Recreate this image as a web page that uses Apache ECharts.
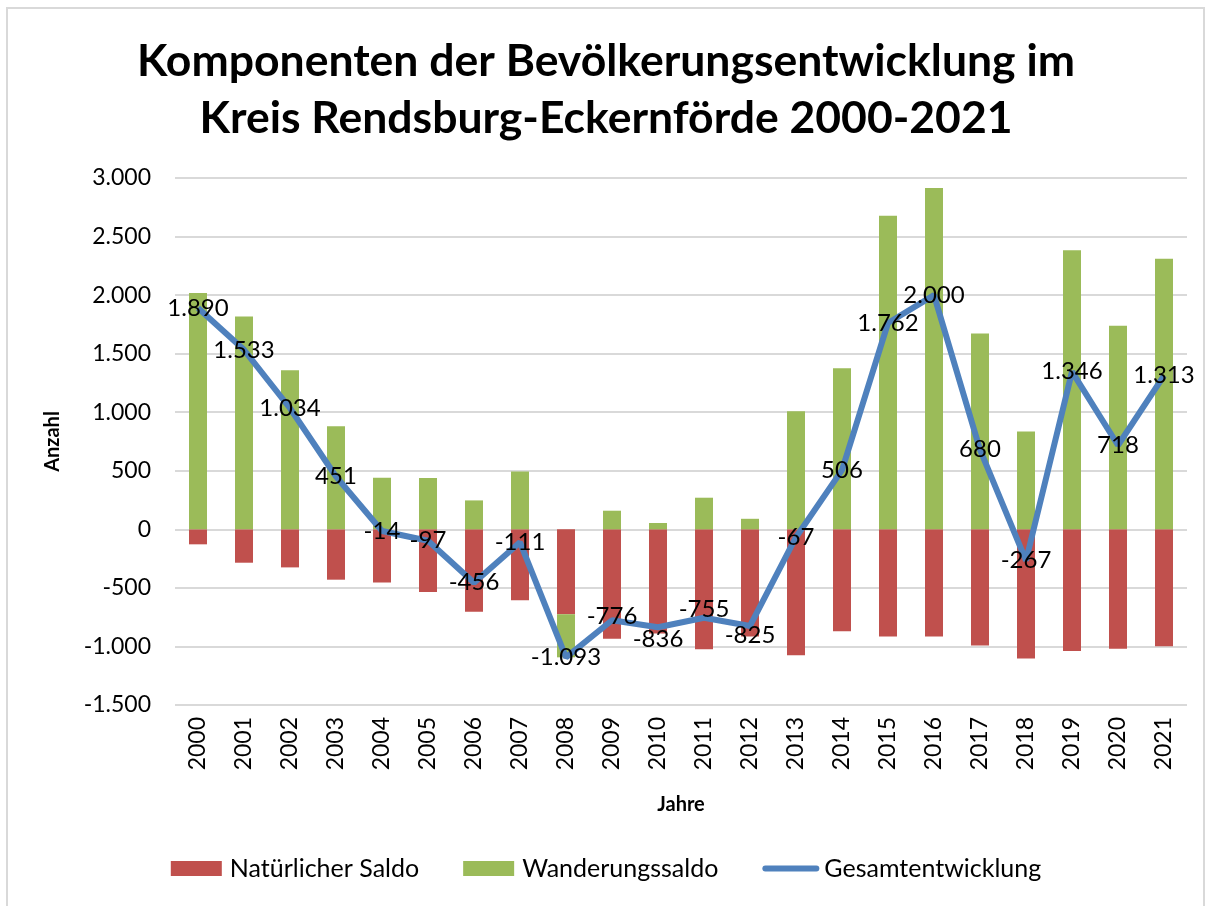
<!DOCTYPE html>
<html>
<head>
<meta charset="utf-8">
<script src="https://cdn.jsdelivr.net/npm/echarts@6/dist/echarts.min.js"></script>
<style>
html,body{margin:0;padding:0;background:#fff;}
#chart{width:1212px;height:906px;}
</style>
</head>
<body>
<div id="chart"></div>
<script>
const years = ['2000','2001','2002','2003','2004','2005','2006','2007','2008','2009','2010','2011','2012','2013','2014','2015','2016','2017','2018','2019','2020','2021'];
const natuerlicherSaldo = [-128,-285,-325,-430,-455,-535,-703,-605,-725,-935,-890,-1025,-915,-1075,-870,-915,-915,-993,-1102,-1038,-1020,-998];
const wanderungssaldo = [2018,1818,1359,881,441,438,247,494,-368,159,54,270,90,1008,1376,2677,2915,1673,835,2384,1738,2311];
const gesamtentwicklung = [1890,1533,1034,451,-14,-97,-456,-111,-1093,-776,-836,-755,-825,-67,506,1762,2000,680,-267,1346,718,1313];

function de(v){
  const neg = v < 0;
  let s = String(Math.abs(Math.round(v)));
  s = s.replace(/\B(?=(\d{3})+(?!\d))/g, '.');
  return (neg ? '-' : '') + s;
}

// small manual label nudges (vertical, px) as in the reference
const labelNudge = {'2010':12, '2012':9, '2009':-4, '2011':-8};

const FONT = 'Lato';
const lineData = gesamtentwicklung.map((v,i)=>{
  const n = labelNudge[years[i]];
  return n ? {value:v, label:{offset:[0,n]}} : v;
});

const chart = echarts.init(document.getElementById('chart'), null, {renderer:'canvas'});
chart.setOption({
  backgroundColor:'#ffffff',
  animation:false,
  textStyle:{fontFamily:FONT},
  title:{
    text:'Komponenten der Bevölkerungsentwicklung im\nKreis Rendsburg-Eckernförde 2000-2021',
    left:'center', top:28,
    textStyle:{fontFamily:FONT, fontSize:44.5, fontWeight:'bold', color:'#000', lineHeight:57}
  },
  graphic:[{
    type:'rect', shape:{x:7, y:8, width:1197, height:910},
    style:{fill:'none', stroke:'#d9d9d9', lineWidth:2}, silent:true, z:-1
  }],
  legend:{
    bottom:20, left:'center',
    itemWidth:51, itemHeight:15, itemGap:44,
    textStyle:{fontFamily:FONT, fontSize:25, color:'#000', padding:[0,0,0,3]},
    data:[
      {name:'Natürlicher Saldo', icon:'rect'},
      {name:'Wanderungssaldo', icon:'rect'},
      {name:'Gesamtentwicklung', lineStyle:{width:6, cap:'round'}}
    ]
  },
  grid:{left:175, right:25, top:178, bottom:201, containLabel:false},
  xAxis:{
    type:'category', data:years,
    name:'Jahre', nameLocation:'middle', nameGap:90,
    nameTextStyle:{fontFamily:FONT, fontSize:20, fontWeight:'bold', color:'#000'},
    axisLine:{show:false}, axisTick:{show:false},
    axisLabel:{rotate:90, fontSize:23, color:'#000', margin:12, fontFamily:FONT}
  },
  yAxis:{
    type:'value', min:-1500, max:3000, interval:500,
    name:'Anzahl', nameLocation:'middle', nameGap:112, nameRotate:90,
    nameTextStyle:{fontFamily:FONT, fontSize:20, fontWeight:'bold', color:'#000'},
    axisLine:{show:false}, axisTick:{show:false},
    axisLabel:{fontSize:23, color:'#000', margin:24, fontFamily:FONT, formatter:de},
    splitLine:{lineStyle:{color:'#d9d9d9', width:2}}
  },
  series:[
    {
      name:'Natürlicher Saldo', type:'bar', stack:'s', data:natuerlicherSaldo,
      barWidth:18, itemStyle:{color:'#c0504d'}
    },
    {
      name:'Wanderungssaldo', type:'bar', stack:'s', data:wanderungssaldo,
      barWidth:18, itemStyle:{color:'#9bbb59'}
    },
    {
      name:'Gesamtentwicklung', type:'line', data:lineData, z:5,
      symbol:'circle', symbolSize:1, showSymbol:true,
      lineStyle:{color:'#4f81bd', width:6},
      itemStyle:{color:'#4f81bd', opacity:0},
      label:{show:true, position:'inside', fontFamily:FONT, fontSize:24, color:'#000', opacity:1, formatter:p=>de(p.value)}
    }
  ]
});
</script>
</body>
</html>
